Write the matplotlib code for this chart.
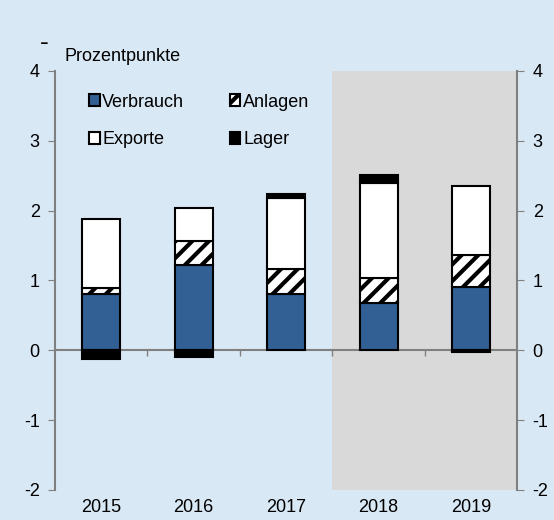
import numpy as np
import matplotlib.pyplot as plt

plt.rcParams['font.family'] = ['Liberation Sans', 'DejaVu Sans']
plt.rcParams['hatch.linewidth'] = 3

years = ['2015', '2016', '2017', '2018', '2019']
verbrauch = [0.80, 1.22, 0.80, 0.68, 0.91]
anlagen = [0.09, 0.34, 0.37, 0.35, 0.45]
exporte = [0.99, 0.48, 1.01, 1.36, 1.00]
lager = [-0.13, -0.10, 0.06, 0.12, -0.02]

bg = '#d9e8f5'
blue = '#336094'
grey_ax = '#808080'

fig = plt.figure(figsize=(5.54, 5.2), dpi=100, facecolor=bg)
ax = fig.add_axes([0.0993, 0.0577, 0.8346, 0.8058])
ax.set_facecolor(bg)

x = np.arange(len(years))
w = 0.41

# forecast shading
ax.axvspan(2.5, 4.5, color='#d9d9d9', zorder=0, lw=0)

pos = np.zeros(len(years))
neg = np.zeros(len(years))

def stack(vals, **kw):
    vals = np.array(vals)
    bottoms = np.where(vals >= 0, pos, neg)
    b = ax.bar(x, vals, w, bottom=bottoms, edgecolor='black', linewidth=1.5, zorder=3, **kw)
    pos[:] = pos + np.where(vals >= 0, vals, 0)
    neg[:] = neg + np.where(vals < 0, vals, 0)
    return b

h1 = stack(verbrauch, color=blue, label='Verbrauch')
h2 = stack(anlagen, color='white', hatch='//', label='Anlagen')
h3 = stack(exporte, color='white', label='Exporte')
h4 = stack(lager, color='black', label='Lager')
for b in h1 + h2 + h3 + h4:
    b.set_edgecolor('black')

ax.set_xlim(-0.5, 4.5)
ax.set_ylim(-2, 4)
ax.set_yticks([-2, -1, 0, 1, 2, 3, 4])
ax.set_yticklabels(['-2', '-1', '0', '1', '2', '3', '4'])
ax.tick_params(axis='y', which='both', left=True, right=True, labelleft=True,
               labelright=True, color=grey_ax, length=5, labelsize=13, pad=6)

ax.spines['top'].set_visible(False)
ax.spines['left'].set_color(grey_ax)
ax.spines['right'].set_color(grey_ax)
ax.spines['left'].set_linewidth(1.5)
ax.spines['right'].set_linewidth(1.5)
ax.spines['bottom'].set_position(('data', 0))
ax.spines['bottom'].set_color(grey_ax)
ax.spines['bottom'].set_linewidth(1.5)
ax.spines['bottom'].set_zorder(2)
ax.set_xticks([0.5, 1.5, 2.5, 3.5])
ax.set_xticklabels([])
ax.tick_params(axis='x', color=grey_ax, length=4, width=1)

for i, yr in enumerate(years):
    ax.text(x[i], -0.022, yr, transform=ax.get_xaxis_transform(), ha='center', va='top', fontsize=13)

ax.text(0.02, 1.015, 'Prozentpunkte', transform=ax.transAxes, ha='left', va='bottom', fontsize=13)
fig.text(0.072, 0.917, '-', fontsize=19, ha='left', va='center')

ax.legend(handles=[h1, h3, h2, h4], ncol=2, frameon=False, fontsize=13,
          loc='upper left', bbox_to_anchor=(0.038, 0.985), handlelength=0.6,
          handleheight=0.6, handletextpad=0.15, columnspacing=2.5, labelspacing=1.15)

fig.savefig('out.png', dpi=100, facecolor=bg)
